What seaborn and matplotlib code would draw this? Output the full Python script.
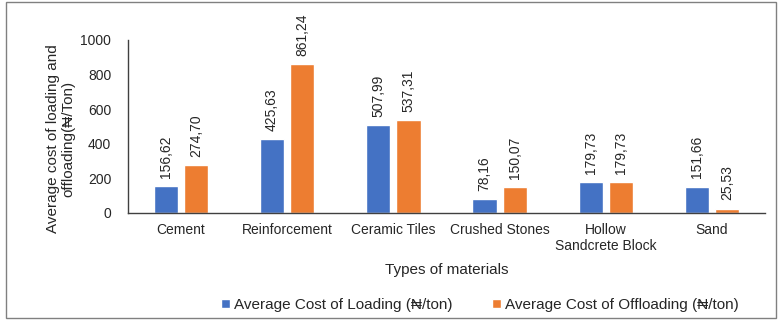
import matplotlib
matplotlib.use("Agg")
import matplotlib.pyplot as plt
import seaborn as sns
import pandas as pd
from matplotlib.patches import Rectangle

materials = ["Cement", "Reinforcement", "Ceramic Tiles", "Crushed Stones",
             "Hollow\nSandcrete Block", "Sand"]
loading = [156.62, 425.63, 507.99, 78.16, 179.73, 151.66]
offloading = [274.70, 861.24, 537.31, 150.07, 179.73, 25.53]
series_names = ["Average Cost of Loading (₦/ton)", "Average Cost of Offloading (₦/ton)"]
colors = ["#4472C4", "#ED7D31"]

df = pd.DataFrame({
    "material": materials * 2,
    "cost": loading + offloading,
    "series": [series_names[0]] * len(materials) + [series_names[1]] * len(materials),
})

sns.set_theme(style="white")
plt.rcParams["font.family"] = ["Liberation Sans", "DejaVu Sans"]

fig = plt.figure(figsize=(7.81, 3.23), dpi=100)
ax = fig.add_axes([128 / 781, 1 - 213 / 323, (765 - 128) / 781, (213 - 40) / 323])

sns.barplot(data=df, x="material", y="cost", hue="series", palette=colors,
            width=0.57, gap=0.2, ax=ax, legend=True, saturation=1)

for container in ax.containers:
    labels = [f"{v:.2f}".replace(".", ",") for v in container.datavalues]
    ax.bar_label(container, labels=labels, rotation=90, padding=6,
                 fontsize=10, color="#262626")

ax.set_ylim(0, 1000)
ax.set_yticks(range(0, 1001, 200))
ax.set_xlim(-0.5, len(materials) - 0.5)
ax.tick_params(axis="both", length=0, labelsize=10, colors="#262626")
ax.tick_params(axis="y", pad=12)
ax.tick_params(axis="x", pad=7)
for side in ["top", "right"]:
    ax.spines[side].set_visible(False)
for side in ["left", "bottom"]:
    ax.spines[side].set_color("#404040")
    ax.spines[side].set_linewidth(1.0)

ax.set_xlabel("Types of materials", fontsize=11, color="#262626", labelpad=7)
ax.set_ylabel("Average cost of loading and\noffloading(₦/Ton)", fontsize=11,
              color="#262626", linespacing=1.05)
ax.yaxis.set_label_coords(-(128 - 75) / 637, (213 - 139) / 173)

handles, labels = ax.get_legend_handles_labels()
ax.legend_.remove()
fig.legend(handles, labels, loc="center", bbox_to_anchor=(480 / 781, 1 - 305 / 323),
           ncol=2, frameon=False, fontsize=11, handlelength=0.6, handleheight=0.6,
           handletextpad=0.25, columnspacing=2.6, labelcolor="#262626")

fig.patches.append(Rectangle((6 / 781, 5 / 323), 770 / 781, 316 / 323,
                             transform=fig.transFigure, fill=False,
                             edgecolor="#808080", linewidth=1.0))

fig.savefig("out.png", dpi=100)
